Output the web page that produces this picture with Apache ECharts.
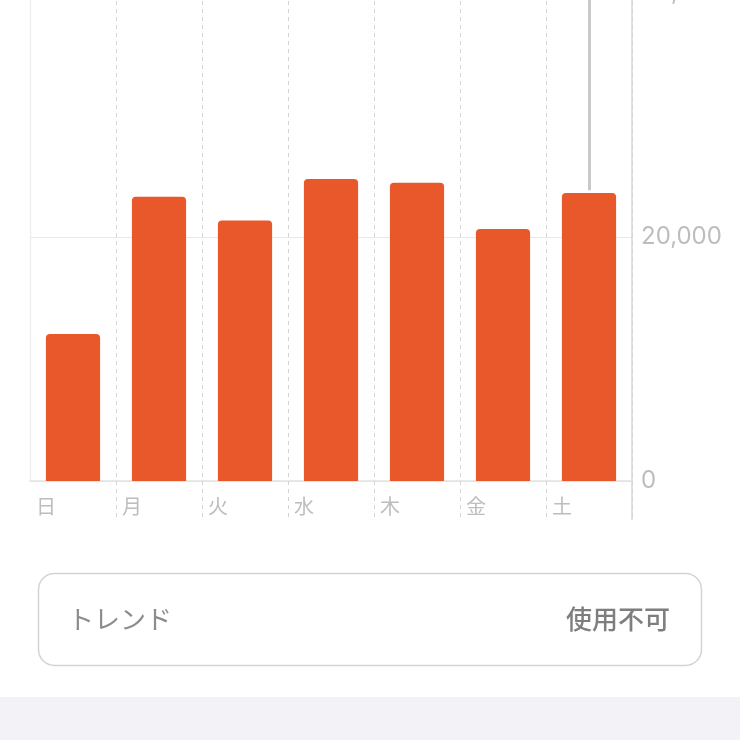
<!DOCTYPE html>
<html>
<head>
<meta charset="utf-8">
<script src="https://cdn.jsdelivr.net/npm/echarts@6/dist/echarts.min.js"></script>
<style>
html,body{margin:0;padding:0;background:#fff;overflow:hidden;}
#c{width:740px;height:747px;margin-top:-7px;}
</style>
</head>
<body>
<div id="c"></div>
<script>
const categories = ['日','月','火','水','木','金','土'];
const steps = [12050, 23300, 21350, 24750, 24450, 20650, 23600];
const yMax = 40000;
const yInterval = 20000;
const selectedDay = '土';
const trendLabel = 'トレンド';
const trendValue = '使用不可';

const chart = echarts.init(document.getElementById('c'), null, {renderer:'canvas'});
const selIdx = categories.indexOf(selectedDay);

chart.setOption({
  animation: false,
  backgroundColor: '#ffffff',
  grid: {left: 30, right: 108, top: 0, bottom: 259, containLabel: false, outerBoundsMode: 'none'},
  xAxis: {
    type: 'category',
    data: categories,
    boundaryGap: true,
    axisLine: {show: true, lineStyle: {color: '#e2e2e2', width: 1.5}},
    axisTick: {
      show: true, length: 39,
      interval: function (i) { return i !== 0; },
      lineStyle: {color: '#d4d4d4', width: 1, type: [4, 4]}
    },
    axisLabel: {
      color: '#bdbdbd', fontSize: 20, margin: 15,
      fontFamily: '"Noto Sans CJK JP", sans-serif',
      align: 'right', padding: [0, 17, 0, 0]
    },
    splitLine: {show: true, lineStyle: {color: '#d4d4d4', width: 1, type: [4, 4]}}
  },
  yAxis: [{
    type: 'value',
    position: 'right',
    min: 0, max: yMax, interval: yInterval,
    axisLine: {show: true, lineStyle: {color: '#d6d6d6', width: 1.5}},
    axisTick: {show: false},
    axisLabel: {
      color: '#bdbdbd', fontSize: 24, margin: 9,
      fontFamily: 'Inter, Roboto, sans-serif',
      formatter: function (v) { return v.toLocaleString('en-US'); }
    },
    splitLine: {show: true, lineStyle: {color: '#e8e8e8', width: 1.2}}
  }, {
    type: 'value',
    position: 'left',
    min: 0, max: yMax, interval: yInterval,
    axisLine: {show: true, lineStyle: {color: '#ececec', width: 1.2}},
    axisTick: {show: false},
    axisLabel: {show: false},
    splitLine: {show: false}
  }],
  series: [{
    type: 'bar',
    data: steps,
    barWidth: '63%',
    itemStyle: {color: '#E9582A', borderRadius: [4, 4, 0, 0]},
    markLine: {
      silent: true,
      symbol: 'none',
      label: {show: false},
      lineStyle: {color: '#c9c9c9', width: 3, type: 'solid'},
      data: [[
        {coord: [selectedDay, steps[selIdx] * 1.01]},
        {coord: [selectedDay, yMax]}
      ]]
    }
  }],
  graphic: [
    {type: 'line', shape: {x1: 632, y1: 488, x2: 632, y2: 527}, style: {stroke: '#d6d6d6', lineWidth: 1.5}, z: 10},
    {type: 'rect', shape: {x: 38.5, y: 580.5, width: 663, height: 92, r: 16},
      style: {fill: '#ffffff', stroke: '#d3d3d6', lineWidth: 1.5}},
    {type: 'text', left: 68, top: 613,
      style: {text: trendLabel, fill: '#8c8c8c', fontSize: 26, fontFamily: '"Noto Sans CJK JP", sans-serif'}},
    {type: 'text', right: 70, top: 613,
      style: {text: trendValue, fill: '#7e7e7e', fontSize: 26, fontWeight: 500, fontFamily: '"Noto Sans CJK JP", sans-serif'}},
    {type: 'rect', shape: {x: 0, y: 704, width: 740, height: 43}, style: {fill: '#f2f2f7'}}
  ]
});
</script>
</body>
</html>
